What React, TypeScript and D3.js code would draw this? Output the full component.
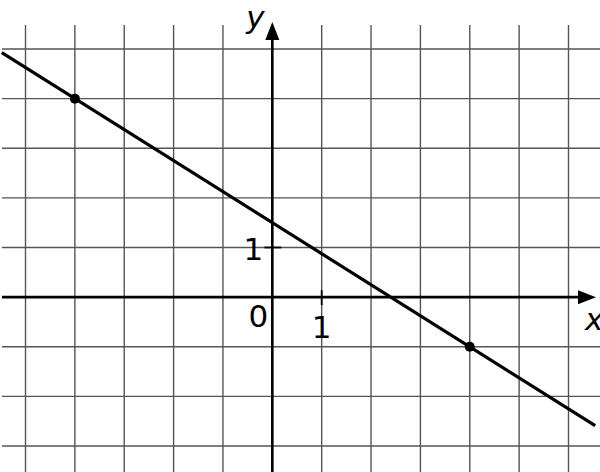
import React from "react";
import * as d3 from "d3";

const W = 600;
const H = 472;

const gridX = [-5, -4, -3, -2, -1, 1, 2, 3, 4, 5, 6];
const gridY = [5, 4, 3, 2, 1, -1, -2, -3];
const points = [
  { x: -4, y: 4 },
  { x: 4, y: -1 },
];
const lineXRange = [-5.48, 6.54];
const tickLabels = ["0", "1", "1"];
const axisNames = ["x", "y"];

export default function App() {
  const xs = d3.scaleLinear().domain([-5, 6]).range([25.5, 568.5]);
  const ys = d3.scaleLinear().domain([5, -3]).range([49, 446]);
  const slope = (points[1].y - points[0].y) / (points[1].x - points[0].x);
  const f = (x: number) => points[0].y + slope * (x - points[0].x);
  const lineGen = d3
    .line<number>()
    .x((d) => xs(d))
    .y((d) => ys(f(d)));
  const ox = xs(0);
  const oy = ys(0);
  const font = "'DejaVu Sans', sans-serif";
  return (
    <div style={{ position: "absolute", left: 0, top: 0 }}>
      <svg width={W} height={H} style={{ display: "block", background: "#fff" }}>
        <g stroke="#555" strokeWidth={1.4}>
          {gridX.map((v) => (
            <line key={"gx" + v} x1={xs(v)} x2={xs(v)} y1={25} y2={H} />
          ))}
          {gridY.map((v) => (
            <line key={"gy" + v} x1={2} x2={W} y1={ys(v)} y2={ys(v)} />
          ))}
        </g>
        <g stroke="#000" strokeWidth={2.6}>
          <line x1={2} x2={582} y1={oy} y2={oy} />
          <line x1={ox} x2={ox} y1={H} y2={36} />
          <line x1={ox - 8} x2={ox + 9} y1={ys(1)} y2={ys(1)} strokeWidth={1.8} />
          <line x1={xs(1)} x2={xs(1)} y1={oy - 7} y2={oy + 8} strokeWidth={1.8} />
        </g>
        <path d={`M${ox},22 L${ox - 7},40 L${ox + 7},40 Z`} fill="#000" />
        <path d={`M596,${oy} L578,${oy - 7} L578,${oy + 7} Z`} fill="#000" />
        <path
          d={lineGen(lineXRange) || ""}
          fill="none"
          stroke="#000"
          strokeWidth={3.2}
        />
        {points.map((p, i) => (
          <circle key={i} cx={xs(p.x)} cy={ys(p.y)} r={5} fill="#000" />
        ))}
        <g fontFamily={font} fontSize={31} fill="#000">
          <text x={ox - 14} y={oy + 30} textAnchor="middle">{tickLabels[0]}</text>
          <text x={xs(1)} y={oy + 41} textAnchor="middle">{tickLabels[1]}</text>
          <text x={ox - 19} y={ys(1) + 12} textAnchor="middle">{tickLabels[2]}</text>
          <text x={585} y={oy + 33} fontStyle="italic">{axisNames[0]}</text>
          <text x={ox - 17} y={28} textAnchor="middle" fontStyle="italic">{axisNames[1]}</text>
        </g>
      </svg>
    </div>
  );
}
